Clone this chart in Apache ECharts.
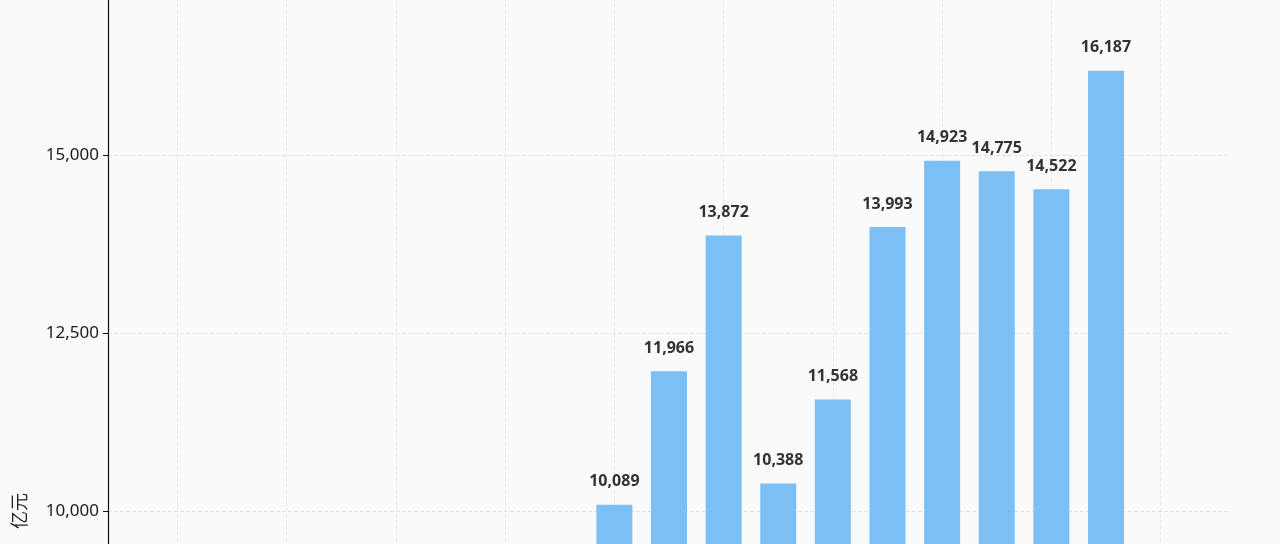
<!DOCTYPE html>
<html>
<head>
<meta charset="utf-8">
<script src="https://cdn.jsdelivr.net/npm/echarts@6/dist/echarts.min.js"></script>
<style>
html,body{margin:0;padding:0;background:#fafafa;}
#chart{width:1280px;height:544px;}
</style>
</head>
<body>
<div id="chart"></div>
<script>
var years = [2012, 2013, 2014, 2015, 2016, 2017, 2018, 2019, 2020, 2021];
var values = [10089, 11966, 13872, 10388, 11568, 13993, 14923, 14775, 14522, 16187];
var unitName = '亿元';

var seriesData = years.map(function (y, i) { return [y, values[i]]; });
var FONT = '"Noto Sans", "Noto Sans CJK SC", sans-serif';

var chart = echarts.init(document.getElementById('chart'));
chart.setOption({
  backgroundColor: '#fafafa',
  textStyle: { fontFamily: FONT },
  animation: false,
  grid: { left: 108, right: 50, top: -200.4, bottom: -678.4, containLabel: false, outerBoundsMode: 'none' },
  xAxis: {
    type: 'value',
    min: 2002.73,
    max: 2023.27,
    splitNumber: 10,
    axisLine: { show: false },
    axisTick: { show: false },
    axisLabel: { show: false },
    splitLine: {
      show: true,
      showMinLine: false,
      showMaxLine: false,
      lineStyle: { color: '#e8e8e8', type: 'dashed', width: 1 }
    }
  },
  yAxis: {
    type: 'value',
    min: 0,
    max: 20000,
    interval: 2500,
    name: unitName,
    nameLocation: 'middle',
    nameRotate: 90,
    nameGap: 78,
    nameTextStyle: { fontSize: 18, color: '#222', fontFamily: FONT },
    axisLine: { show: true, lineStyle: { color: '#111', width: 1.2 } },
    axisTick: { show: true, length: 5, lineStyle: { color: '#111' } },
    axisLabel: {
      fontSize: 17,
      color: '#1a1a1a',
      margin: 9,
      fontFamily: FONT,
      formatter: function (v) { return v.toLocaleString('en-US'); }
    },
    splitLine: { show: true, lineStyle: { color: '#e3e3e3', type: 'dashed', width: 1 } }
  },
  series: [{
    type: 'bar',
    data: seriesData,
    barWidth: 36,
    itemStyle: { color: '#7cbff5' },
    label: {
      show: true,
      position: 'top',
      distance: 15,
      fontSize: 16,
      fontWeight: 'bold',
      color: '#333',
      fontFamily: FONT,
      formatter: function (p) { return p.value[1].toLocaleString('en-US'); }
    }
  }]
});
</script>
</body>
</html>
